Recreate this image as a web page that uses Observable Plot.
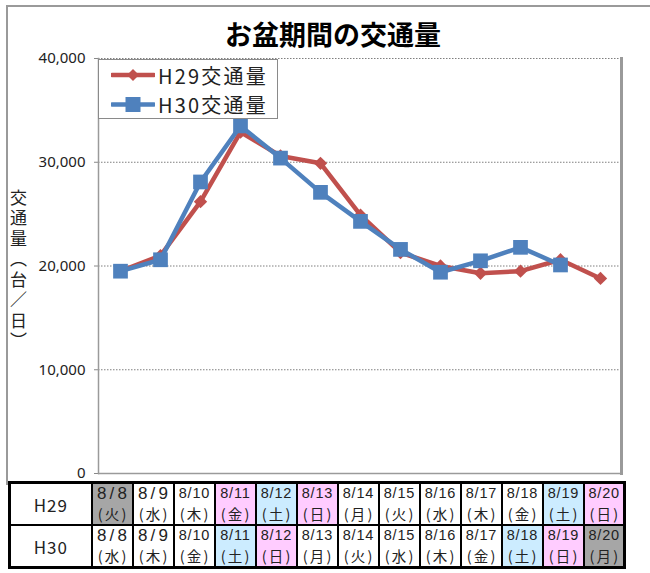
<!DOCTYPE html>
<html>
<head>
<meta charset="utf-8">
<script src="https://cdn.jsdelivr.net/npm/d3@7"></script>
<script src="https://cdn.jsdelivr.net/npm/@observablehq/plot@0.6"></script>
<style>
  html, body { margin: 0; padding: 0; background: #fff; }
  #wrap { position: relative; width: 650px; height: 573px; overflow: hidden; background: #fff;
          font-family: "Noto Sans CJK JP", "Noto Sans", sans-serif; color: #222; }
  #chart { position: absolute; left: 0; top: 0; }
  #frame { position: absolute; left: 6px; top: 5px; width: 680px; height: 478px; border: 2px solid #9a9a9a; border-bottom: none; }
  #title { position: absolute; left: 0; width: 666px; top: 20px; text-align: center; font-size: 27px; font-weight: bold; line-height: 1; color: #000; }
  #ylabel { position: absolute; left: 10px; top: 189px; writing-mode: vertical-rl; font-size: 17px; letter-spacing: 3.5px; line-height: 1; color: #222; }
  #legend { position: absolute; left: 98px; top: 59px; width: 178px; height: 58px; border: 1.5px solid #8a8a8a; background: #fff; }
  .lg { position: absolute; left: 12px; height: 26px; display: flex; align-items: center; font-size: 20px; letter-spacing: 2.2px; color: #222; }
  .lg svg { margin-right: 3px; }
  #tbl { position: absolute; left: 8px; top: 481px; border-collapse: collapse; table-layout: fixed; border: 3px solid #000; }
  #tbl td { border: 2px solid #000; padding: 0; text-align: center; height: 40px; line-height: 1; color: #222; overflow: hidden; white-space: nowrap; }
  #tbl td.lab { font-size: 17px; letter-spacing: 1px; }
  .d3c { font-family: "Liberation Sans", "DejaVu Sans", sans-serif; font-size: 17px; letter-spacing: 3.2px; margin-right: -3.2px; height: 19px; line-height: 19px; }
  .d4c { font-family: "Liberation Sans", "DejaVu Sans", sans-serif; font-size: 14.5px; letter-spacing: 0.8px; margin-right: -0.8px; height: 19px; line-height: 19px; }
  .dw { font-size: 14.5px; letter-spacing: 2.2px; margin-right: -2.2px; height: 21px; line-height: 21px; }
</style>
</head>
<body>
<div id="wrap">
  <div id="chart"></div>
  <div id="frame"></div>
  <div id="title"></div>
  <div id="ylabel"></div>
  <div id="legend"></div>
  <table id="tbl"></table>
</div>
<script>
// ---- data ----
const title = "お盆期間の交通量";
const yLabel = "交通量（台／日）";
const dates = ["8/8","8/9","8/10","8/11","8/12","8/13","8/14","8/15","8/16","8/17","8/18","8/19","8/20"];
const h29Days = ["火","水","木","金","土","日","月","火","水","木","金","土","日"];
const h30Days = ["水","木","金","土","日","月","火","水","木","金","土","日","月"];
const h29Colors = ["gray","white","white","pink","blue","pink","white","white","white","white","white","blue","pink"];
const h30Colors = ["white","white","white","blue","pink","white","white","white","white","white","blue","pink","gray"];
const h29Values = [19500, 21000, 26200, 32900, 30600, 29900, 24900, 21300, 20000, 19300, 19500, 20600, 18800];
const h30Values = [19500, 20600, 28100, 33500, 30400, 27100, 24300, 21600, 19400, 20500, 21800, 20100];
const seriesNames = ["H29交通量", "H30交通量"];
const rowLabels = ["H29", "H30"];
const yTicks = [0, 10000, 20000, 30000, 40000];

const red = "#C0504D", blue = "#4F81BD";
const fills = {gray: "#A6A6A6", white: "#FFFFFF", pink: "#FFCCFF", blue: "#CCECFF"};

const h29 = h29Values.map((v, i) => ({date: dates[i], value: v}));
const h30 = h30Values.map((v, i) => ({date: dates[i], value: v}));

const chart = Plot.plot({
  width: 650, height: 490,
  marginLeft: 98, marginRight: 29, marginTop: 58, marginBottom: 17,
  style: {background: "transparent", fontFamily: "'Noto Sans', 'DejaVu Sans', sans-serif", fontSize: "15px", color: "#222"},
  x: {type: "point", domain: dates, padding: 0.5, axis: null},
  y: {domain: [0, 40000], axis: null},
  marks: [
    Plot.gridY(yTicks.filter(d => d > 0), {stroke: "#7f7f7f", strokeOpacity: 1, strokeDasharray: "1.5,1.5", strokeWidth: 1}),
    Plot.axisY({ticks: yTicks, tickFormat: d3.format(","), label: null, tickSize: 4, tickPadding: 9, stroke: "#888", fill: "#222", fontSize: 15}),
    Plot.frame({anchor: "left", stroke: "#9a9a9a", strokeWidth: 1.5}),
    Plot.frame({anchor: "right", stroke: "#9a9a9a", strokeWidth: 3}),
    Plot.ruleY([0], {stroke: "#9a9a9a", strokeWidth: 1.5}),
    Plot.line(h29, {x: "date", y: "value", stroke: red, strokeWidth: 4.5}),
    Plot.dot(h29, {x: "date", y: "value", symbol: "diamond2", r: 6, fill: red, stroke: "none"}),
    Plot.line(h30, {x: "date", y: "value", stroke: blue, strokeWidth: 4.5}),
    Plot.dot(h30, {x: "date", y: "value", symbol: "square", r: 8.3, fill: blue, stroke: "none"})
  ]
});
document.getElementById("chart").appendChild(chart);

document.getElementById("title").textContent = title;
document.getElementById("ylabel").textContent = yLabel;

// legend
const legend = document.getElementById("legend");
[[seriesNames[0], red, "diamond"], [seriesNames[1], blue, "square"]].forEach(([name, color, sym], i) => {
  const row = document.createElement("div");
  row.className = "lg";
  row.style.top = (i === 0 ? 2 : 31) + "px";
  const marker = sym === "diamond"
    ? `<polygon points="22,1 28,7 22,13 16,7" fill="${color}"/>`
    : `<rect x="14.5" y="0" width="15" height="15" fill="${color}"/>`;
  row.innerHTML = `<svg width="44" height="15" viewBox="0 0 44 15"><line x1="1" y1="${sym === "diamond" ? 7 : 7.5}" x2="43" y2="${sym === "diamond" ? 7 : 7.5}" stroke="${color}" stroke-width="4.5" stroke-linecap="round"/>${marker}</svg><span>${name}</span>`;
  legend.appendChild(row);
});

// table
const tbl = document.getElementById("tbl");
const cg = document.createElement("colgroup");
cg.innerHTML = `<col style="width:82px">` + dates.map(() => `<col style="width:41px">`).join("");
tbl.appendChild(cg);
[[rowLabels[0], h29Days, h29Colors], [rowLabels[1], h30Days, h30Colors]].forEach(([lab, days, cols]) => {
  const tr = document.createElement("tr");
  const l = document.createElement("td");
  l.className = "lab"; l.textContent = lab;
  tr.appendChild(l);
  dates.forEach((d, i) => {
    const td = document.createElement("td");
    td.style.background = fills[cols[i]];
    const cls = d.length > 3 ? "d4c" : "d3c";
    td.innerHTML = `<div class="${cls}">${d}</div><div class="dw">(${days[i]})</div>`;
    tr.appendChild(td);
  });
  tbl.appendChild(tr);
});
</script>
</body>
</html>
